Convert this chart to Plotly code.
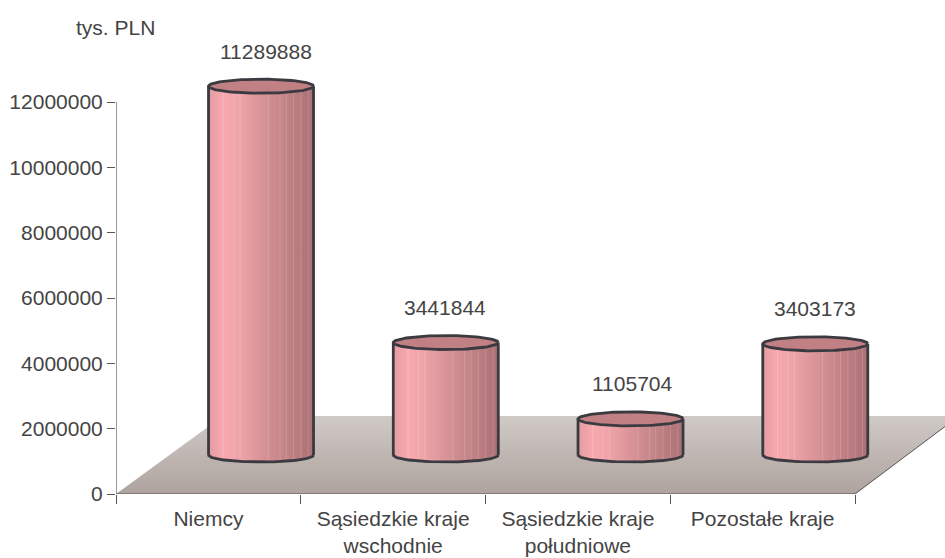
import numpy as np
import plotly.graph_objects as go

categories = ["Niemcy", "Sąsiedzkie kraje<br>wschodnie", "Sąsiedzkie kraje<br>południowe", "Pozostałe kraje"]
values = [11289888, 3441844, 1105704, 3403173]
y_ticks = [0, 2000000, 4000000, 6000000, 8000000, 10000000, 12000000]
unit_label = "tys. PLN"

W, H = 945, 558
ML, MB = 116, 64
CAT_PX = 184.75
UNIT_PX = 392 / 12000000
Y_TOP = (H - MB) * 1 / UNIT_PX
X_MAX = (W - ML) / CAT_PX

BASE = 39 / UNIT_PX
RY = 7 / UNIT_PX
RX = 52.5 / CAT_PX
CENTER_SHIFT = 0.285
DEPTH_Y = 78 / UNIT_PX
DEPTH_X_L = 107 / CAT_PX
DEPTH_X_R = 104 / CAT_PX
TXT = "#444444"
EDGE = "#3a3a40"
EDGE_W = 2.8
AXIS = "#555555"
FONT = "Liberation Sans"
FS = 21
stripe_fracs = [.14, .24, .30, .57, .68, .74, .81, .88, .95]
label_dx = [5, -1, 2, 0]

fig = go.Figure()
n = len(categories)

# floor
fig.add_trace(go.Scatter(
    x=[0, n, n + DEPTH_X_R, DEPTH_X_L, 0], y=[0, 0, DEPTH_Y, DEPTH_Y, 0],
    mode="none", fill="toself", hoverinfo="skip", showlegend=False,
    fillgradient=dict(type="vertical", colorscale=[[0, "#aea39e"], [1, "#d0cac7"]]),
))
fig.add_trace(go.Scatter(x=[n, n + DEPTH_X_R], y=[0, DEPTH_Y], mode="lines",
                         line=dict(color=AXIS, width=1), hoverinfo="skip", showlegend=False))
# axes
fig.add_trace(go.Scatter(x=[0, n], y=[0, 0], mode="lines", cliponaxis=False,
                         line=dict(color=AXIS, width=1.2), hoverinfo="skip", showlegend=False))
fig.add_trace(go.Scatter(x=[0, 0], y=[0, y_ticks[-1]], mode="lines", cliponaxis=False,
                         line=dict(color=AXIS, width=1.2), hoverinfo="skip", showlegend=False))

th = np.linspace(0, np.pi, 60)
for i, v in enumerate(values):
    cx = i + CENTER_SHIFT + 0.5
    top = v + BASE
    ax = cx + RX * np.cos(th)        # right -> left
    lower = -RY * np.sin(th)
    bx = np.concatenate([ax, ax[::-1], ax[:1]])
    by = np.concatenate([BASE + lower, top + lower[::-1], [BASE]])
    fig.add_trace(go.Scatter(
        x=bx, y=by, mode="none", fill="toself", hoverinfo="skip", showlegend=False,
        fillgradient=dict(type="horizontal", colorscale=[
            [0, "#e39ca1"], [0.14, "#f8a9af"], [0.3, "#eda3a8"], [0.55, "#d49094"],
            [0.8, "#bd7e82"], [1, "#ab7175"]]),
    ))
    for f in stripe_fracs:
        sx = cx - RX + 2 * RX * f
        dy = RY * np.sqrt(max(0, 1 - ((sx - cx) / RX) ** 2))
        fig.add_trace(go.Scatter(x=[sx, sx], y=[BASE - dy, top - dy], mode="lines",
                                 line=dict(color="rgba(255,255,255,0.16)", width=1),
                                 hoverinfo="skip", showlegend=False))
    fig.add_trace(go.Scatter(x=ax, y=BASE + lower, mode="lines", line=dict(color=EDGE, width=EDGE_W),
                             hoverinfo="skip", showlegend=False))
    for sx in (cx - RX, cx + RX):
        fig.add_trace(go.Scatter(x=[sx, sx], y=[BASE, top], mode="lines", line=dict(color=EDGE, width=EDGE_W),
                                 hoverinfo="skip", showlegend=False))
    t2 = np.linspace(0, 2 * np.pi, 120)
    fig.add_trace(go.Scatter(x=cx + RX * np.cos(t2), y=top + RY * np.sin(t2), mode="lines",
                             fill="toself", fillcolor="#c08084", line=dict(color=EDGE, width=EDGE_W),
                             hoverinfo="skip", showlegend=False))
    fig.add_annotation(x=cx, y=top, text=str(v), showarrow=False, xanchor="center", yanchor="middle",
                       xshift=label_dx[i], yshift=35, font=dict(family=FONT, size=FS, color=TXT))

fig.add_annotation(xref="paper", yref="paper", x=(74 - ML) / (W - ML), y=(H - MB - 27) / (H - MB),
                   text=unit_label, showarrow=False, xanchor="left", yanchor="middle",
                   font=dict(family=FONT, size=FS, color=TXT))

fig.update_layout(
    width=W, height=H, margin=dict(l=ML, r=0, t=0, b=MB, pad=0, autoexpand=False),
    paper_bgcolor="white", plot_bgcolor="white", showlegend=False, hovermode=False,
    xaxis=dict(range=[0, X_MAX], showgrid=False, zeroline=False, showline=False, automargin=False,
               tickvals=[i + 0.5 for i in range(n)], ticktext=categories, ticks="",
               tickfont=dict(family=FONT, size=FS, color=TXT), ticklabelstandoff=10,
               minor=dict(tickvals=list(range(n + 1)), ticks="outside", ticklen=9,
                          tickcolor=AXIS, tickwidth=1, showgrid=False)),
    yaxis=dict(range=[0, Y_TOP], showgrid=False, zeroline=False, showline=False, automargin=False,
               tickvals=y_ticks, ticktext=[str(t) for t in y_ticks], ticks="outside", ticklen=8,
               tickcolor=AXIS, tickwidth=1,
               tickfont=dict(family=FONT, size=FS, color=TXT)),
)
fig.write_html("out.html", post_script="document.body.style.margin='0';", config={"displayModeBar": False})
